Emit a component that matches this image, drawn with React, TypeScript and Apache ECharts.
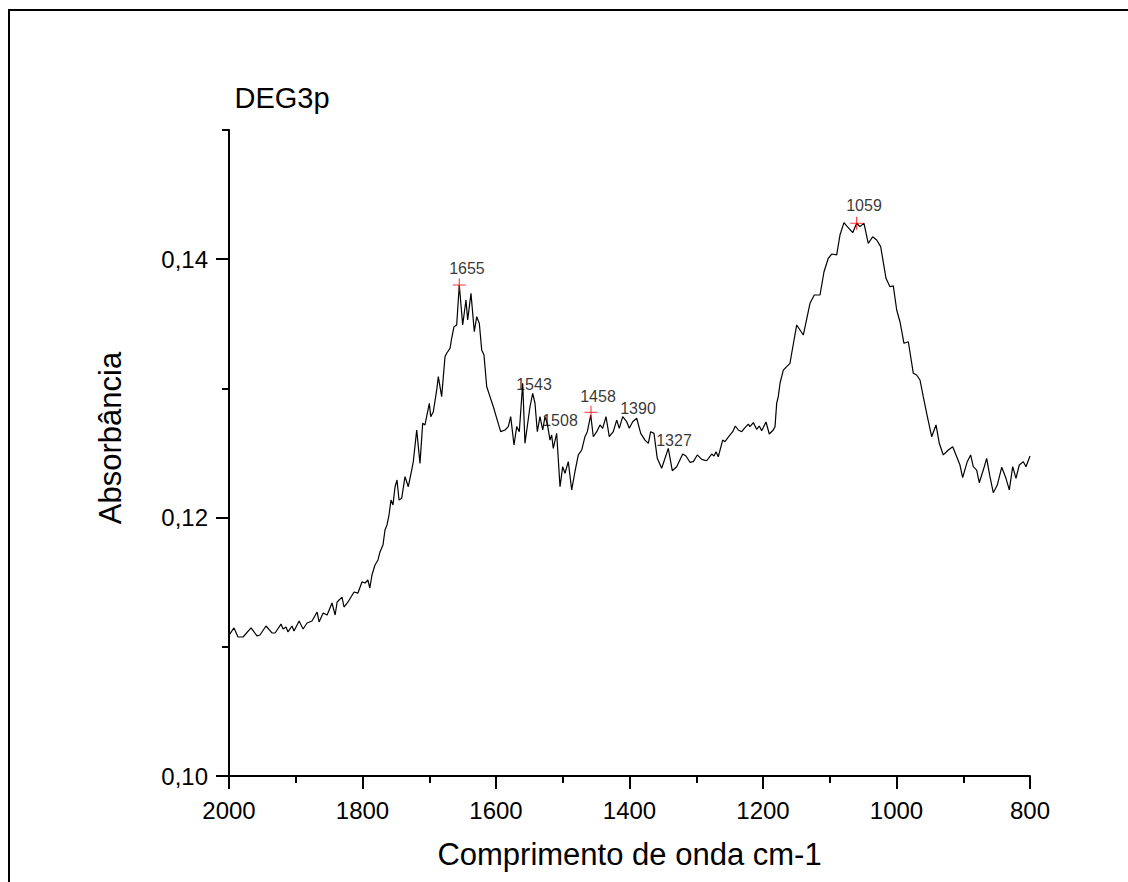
import React, { useEffect, useRef } from "react";
import * as echarts from "echarts";

const FONT = "'Liberation Sans', Arial, Helvetica, sans-serif";

const wavenumbers = [
  2000, 1992.5, 1986.5, 1979, 1967, 1958, 1953.6, 1944.6, 1935.6, 1931, 1922, 1919, 1914.6, 1911.6, 1905.6,
  1902.6, 1895, 1889, 1883, 1875.7, 1868, 1865, 1859, 1853, 1845.7, 1841, 1838, 1830.7, 1827.7, 1821.7,
  1812.7, 1806.8, 1800.8, 1796, 1792, 1789, 1785.8, 1781.3, 1776.8, 1773.8, 1769.3, 1766.3, 1763.3, 1760.3,
  1757.3, 1754.3, 1751.3, 1748.3, 1745.3, 1741.3, 1736.3, 1731.4, 1726.3, 1723.9, 1718.8, 1713.9, 1709.8,
  1706.4, 1699.9, 1697.8, 1693.9, 1688.8, 1686.4, 1681.4, 1676.4, 1673.9, 1668.9, 1666.4, 1662.9, 1658.9,
  1655, 1649.9, 1645, 1642.4, 1637.5, 1632.5, 1628.9, 1625, 1621.4, 1618, 1613.9, 1609, 1604, 1598.1, 1593,
  1586.5, 1581.6, 1578, 1573, 1569, 1565.1, 1560, 1556.6, 1549.1, 1545, 1541.6, 1538.1, 1534.1, 1530, 1526.6,
  1523.2, 1519.1, 1516.6, 1514.2, 1509.1, 1504.1, 1500.1, 1496.6, 1491.7, 1486.6, 1481.7, 1476.7, 1471.6,
  1466.7, 1463.2, 1458.1, 1454.2, 1449.1, 1444.2, 1440.2, 1435.2, 1430.3, 1424.3, 1419.2, 1415.3, 1410.2,
  1404.2, 1400.3, 1395.2, 1389.2, 1383.2, 1376.8, 1371.8, 1368.3, 1363.3, 1358.4, 1351.8, 1346.8, 1341.9,
  1335.9, 1329.3, 1320.3, 1315.4, 1309.4, 1304.4, 1298.4, 1291.8, 1284.4, 1276.9, 1273.4, 1270.4, 1267,
  1260.4, 1257, 1252, 1245.4, 1241.5, 1237, 1231.9, 1227, 1222, 1219.5, 1214.5, 1209.5, 1205.6, 1202, 1195.5,
  1190.6, 1184.6, 1182, 1179.5, 1177.1, 1174.5, 1169.6, 1164.5, 1159.6, 1157, 1149.5, 1139.6, 1129.6, 1123.2,
  1114.6, 1108.6, 1102.2, 1097.1, 1089.6, 1084.7, 1078.7, 1073.7, 1065.6, 1059.7, 1054.7, 1048.7, 1042.3,
  1035.7, 1029.7, 1023.7, 1015.7, 1009.8, 1004.8, 999.7, 994.8, 988.8, 982.3, 974.8, 969.8, 964.8, 959.9,
  954.8, 947.3, 940.8, 935.9, 929.9, 922.4, 915.8, 909.8, 904.9, 900.9, 894, 888.9, 885, 879.9, 876, 870,
  864.9, 860, 855, 849, 842.4, 836, 831, 825.9, 821, 816.1, 810, 806, 800,
];

const absorbance = [
  0.11091, 0.11146, 0.11076, 0.11076, 0.11146, 0.11084, 0.11091, 0.11161, 0.11107, 0.11107, 0.11176, 0.11138,
  0.11153, 0.11115, 0.11161, 0.11122, 0.1120, 0.11138, 0.11184, 0.1120, 0.11269, 0.11192, 0.11262, 0.11246,
  0.11339, 0.11246, 0.11347, 0.11385, 0.11308, 0.11347, 0.11424, 0.11416, 0.11502, 0.11494, 0.11517, 0.11455,
  0.11556, 0.11633, 0.11672, 0.11734, 0.11788, 0.11904, 0.11943, 0.1202, 0.12136, 0.12098, 0.12237, 0.12291,
  0.12136, 0.12149, 0.12317, 0.12239, 0.12368, 0.12433, 0.12678, 0.1242, 0.1273, 0.12717, 0.12885, 0.12781,
  0.1282, 0.12988, 0.13091, 0.12936, 0.13245, 0.13272, 0.1331, 0.13388, 0.13478, 0.13491, 0.138, 0.13491,
  0.13684, 0.1353, 0.13736, 0.13439, 0.13555, 0.13504, 0.13297, 0.13259, 0.13013, 0.12936, 0.12858, 0.12755,
  0.12665, 0.12678, 0.12704, 0.12781, 0.12562, 0.12704, 0.12665, 0.1304, 0.12575, 0.12858, 0.12962, 0.12885,
  0.12665, 0.12781, 0.12678, 0.12781, 0.1273, 0.126, 0.12639, 0.12536, 0.12652, 0.12239, 0.12394, 0.12343,
  0.12433, 0.12214, 0.12355, 0.12485, 0.12523, 0.12626, 0.12665, 0.12794, 0.12626, 0.12665, 0.12717, 0.12691,
  0.12781, 0.12626, 0.12665, 0.12755, 0.12691, 0.12781, 0.12742, 0.12691, 0.12742, 0.12769, 0.12652, 0.126,
  0.12575, 0.12665, 0.12652, 0.12459, 0.12382, 0.12459, 0.12536, 0.12363, 0.12394, 0.12492, 0.12477, 0.12428,
  0.12433, 0.12485, 0.12451, 0.1244, 0.12492, 0.12477, 0.1251, 0.12471, 0.126, 0.12588, 0.12622, 0.12665,
  0.12709, 0.12678, 0.12665, 0.12696, 0.12724, 0.12704, 0.12735, 0.12683, 0.12709, 0.12673, 0.1274, 0.12647,
  0.12678, 0.12704, 0.12885, 0.12936, 0.1304, 0.13142, 0.13168, 0.13194, 0.13272, 0.13491, 0.13413, 0.13659,
  0.13723, 0.13723, 0.13903, 0.14007, 0.1404, 0.14033, 0.14187, 0.14283, 0.14252, 0.14205, 0.14278, 0.14252,
  0.14278, 0.14123, 0.14174, 0.14149, 0.14097, 0.13852, 0.13787, 0.13793, 0.13607, 0.13516, 0.13349, 0.13361,
  0.13117, 0.13104, 0.13065, 0.12936, 0.12807, 0.12626, 0.12717, 0.12575, 0.12485, 0.12523, 0.12549, 0.12471,
  0.12407, 0.12309, 0.12433, 0.12485, 0.12394, 0.12368, 0.1227, 0.12368, 0.12459, 0.12317, 0.12193, 0.12252,
  0.12389, 0.12304, 0.12214, 0.12394, 0.12304, 0.12407, 0.12433, 0.12394, 0.12477,
];

// red "+" peak markers
const markerWavenumbers = [1655, 1457.7, 1059.7];
const markerAbsorbance = [0.138, 0.12815, 0.14278];

// peak annotation labels (text placed at these data coordinates)
const peakLabels = ["1655", "1543", "1508", "1458", "1390", "1327", "1059"];
const peakLabelWavenumbers = [1643.5, 1543.1, 1504.1, 1447.2, 1387.3, 1333.3, 1048.7];
const peakLabelAbsorbance = [0.13928, 0.13034, 0.12752, 0.12941, 0.12848, 0.12593, 0.14412];

const yMajorTicks = [0.1, 0.12, 0.14];
const yMinorTicks = [0.11, 0.13, 0.15];

const chartTitle = "DEG3p";
const xAxisTitle = "Comprimento de onda cm-1";
const yAxisTitle = "Absorbância";

export default function App() {
  const ref = useRef<HTMLDivElement>(null);

  useEffect(() => {
    if (!ref.current) return;
    const chart = echarts.init(ref.current, null, { renderer: "svg" });

    const lineData = wavenumbers.map((w, i) => [w, absorbance[i]]);
    const markerData = markerWavenumbers.map((w, i) => [w, markerAbsorbance[i]]);
    const labelData = peakLabels.map((t, i) => ({
      name: t,
      value: [peakLabelWavenumbers[i], peakLabelAbsorbance[i]],
    }));

    chart.setOption({
      animation: false,
      backgroundColor: "#ffffff",
      textStyle: { fontFamily: FONT },
      grid: { left: 229, right: 98, top: 130, bottom: 106, containLabel: false },
      xAxis: {
        type: "value",
        min: 800,
        max: 2000,
        interval: 200,
        inverse: true,
        name: xAxisTitle,
        nameLocation: "middle",
        nameGap: 63,
        nameTextStyle: { fontSize: 31, color: "#000", fontFamily: FONT },
        axisLine: { show: true, onZero: false, lineStyle: { color: "#000", width: 2 } },
        axisTick: { show: true, length: 13, lineStyle: { color: "#000", width: 2 } },
        minorTick: { show: true, splitNumber: 2, length: 7, lineStyle: { color: "#000", width: 2 } },
        axisLabel: {
          fontSize: 24,
          color: "#000",
          margin: 22,
          fontFamily: FONT,
          formatter: (v: number) => String(v),
        },
        splitLine: { show: false },
        minorSplitLine: { show: false },
      },
      yAxis: [
        {
          type: "value",
          position: "left",
          min: 0.1,
          max: 0.15,
          axisLine: { show: true, onZero: false, lineStyle: { color: "#000", width: 2 } },
          axisTick: {
            show: true,
            customValues: yMajorTicks,
            length: 13,
            lineStyle: { color: "#000", width: 2 },
          },
          axisLabel: {
            customValues: yMajorTicks,
            fontSize: 24,
            color: "#000",
            margin: 21,
            fontFamily: FONT,
            formatter: (v: number) => v.toFixed(2).replace(".", ","),
          },
          splitLine: { show: false },
        },
        {
          type: "value",
          position: "left",
          min: 0.1,
          max: 0.15,
          axisLine: { show: false },
          axisTick: {
            show: true,
            customValues: yMinorTicks,
            length: 7,
            lineStyle: { color: "#000", width: 2 },
          },
          axisLabel: { show: false },
          splitLine: { show: false },
        },
      ],
      graphic: [
        {
          type: "text",
          x: 234.5,
          y: 97.5,
          style: {
            text: chartTitle,
            fontSize: 29,
            fontFamily: FONT,
            fill: "#000",
            align: "left",
            verticalAlign: "middle",
          },
        },
        {
          type: "text",
          x: 110,
          y: 438,
          rotation: Math.PI / 2,
          style: {
            text: yAxisTitle,
            fontSize: 31,
            fontFamily: FONT,
            fill: "#000",
            align: "center",
            verticalAlign: "middle",
          },
        },
      ],
      series: [
        {
          type: "line",
          name: chartTitle,
          data: lineData,
          showSymbol: false,
          symbol: "none",
          lineStyle: { color: "#000", width: 1.2 },
          z: 3,
        },
        {
          type: "scatter",
          name: "peaks",
          data: markerData,
          symbol: "path://M-6,-0.5H6V0.5H-6Z M-0.5,-6H0.5V6H-0.5Z",
          symbolSize: 13,
          itemStyle: { color: "#ff0000" },
          z: 4,
        },
        {
          type: "scatter",
          name: "labels",
          data: labelData,
          symbolSize: 1,
          itemStyle: { color: "rgba(0,0,0,0)" },
          label: {
            show: true,
            position: "inside",
            formatter: (p: any) => p.name,
            fontSize: 16,
            color: "#000",
            fontFamily: FONT,
            align: "center",
            verticalAlign: "middle",
          },
          z: 2,
        },
      ],
    });

    return () => {
      chart.dispose();
    };
  }, []);

  return (
    <div style={{ position: "fixed", left: 0, top: 0, width: 1128, height: 882, overflow: "hidden" }}>
      <div
        ref={ref}
        style={{ position: "absolute", left: 0, top: 0, width: 1128, height: 882, background: "#fff" }}
      />
      <div
        style={{
          position: "absolute",
          left: 7.5,
          top: 8.5,
          width: 1200,
          height: 1000,
          borderLeft: "2.5px solid #000",
          borderTop: "2.5px solid #000",
          pointerEvents: "none",
        }}
      />
    </div>
  );
}
